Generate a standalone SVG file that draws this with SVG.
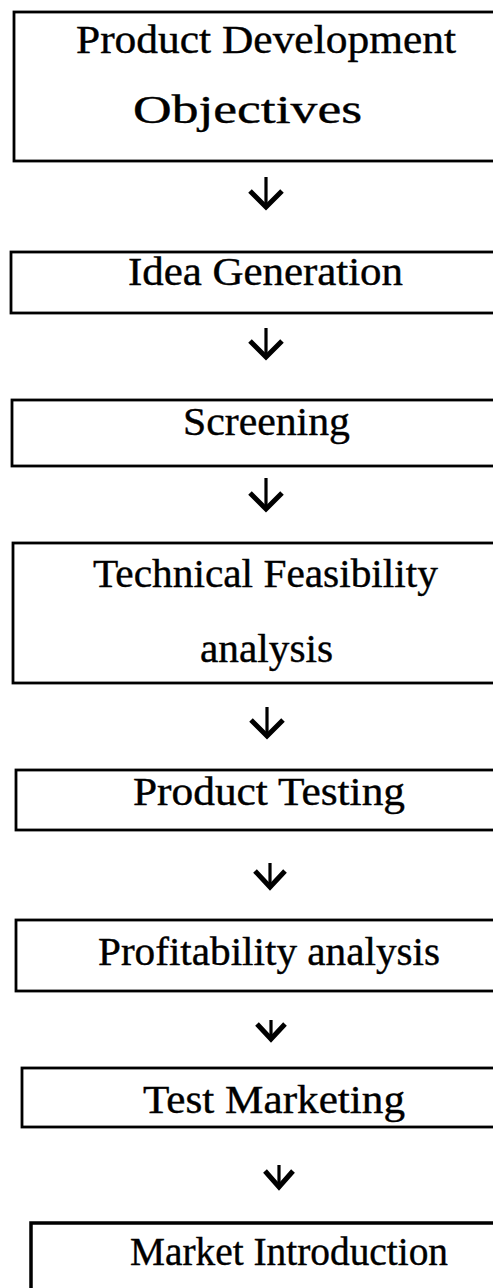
<svg xmlns="http://www.w3.org/2000/svg" width="493" height="1288" viewBox="0 0 493 1288">
<style>
.box{fill:none;stroke:#000;stroke-width:2.8}
.lbl{font-family:"Liberation Serif","Times New Roman",serif;font-size:40px;fill:#000;stroke:#000;stroke-width:0.4}
.stem{stroke:#000;stroke-width:3.2;fill:none}
.head{stroke:#000;stroke-width:5;fill:none;stroke-linejoin:miter;stroke-linecap:butt}
</style>
<rect width="493" height="1288" fill="#fff"/>
<g id="n1"><rect class="box" x="14" y="12" width="500" height="149"/>
<text class="lbl" x="76" y="53" textLength="380" lengthAdjust="spacingAndGlyphs">Product Development</text>
<text class="lbl" x="133" y="123" textLength="229" lengthAdjust="spacingAndGlyphs">Objectives</text></g>
<g id="n2"><rect class="box" x="11" y="252" width="500" height="61"/>
<text class="lbl" x="128" y="285" textLength="275" lengthAdjust="spacingAndGlyphs">Idea Generation</text></g>
<g id="n3"><rect class="box" x="12" y="400" width="500" height="66"/>
<text class="lbl" x="183" y="435" textLength="167" lengthAdjust="spacingAndGlyphs">Screening</text></g>
<g id="n4"><rect class="box" x="13" y="543" width="500" height="140"/>
<text class="lbl" x="93" y="587" textLength="345" lengthAdjust="spacingAndGlyphs">Technical Feasibility</text>
<text class="lbl" x="200" y="662" textLength="133" lengthAdjust="spacingAndGlyphs">analysis</text></g>
<g id="n5"><rect class="box" x="16" y="770" width="500" height="60"/>
<text class="lbl" x="133" y="805" textLength="272" lengthAdjust="spacingAndGlyphs">Product Testing</text></g>
<g id="n6"><rect class="box" x="16" y="920" width="500" height="71"/>
<text class="lbl" x="98" y="965" textLength="342" lengthAdjust="spacingAndGlyphs">Profitability analysis</text></g>
<g id="n7"><rect class="box" x="22" y="1068" width="500" height="59"/>
<text class="lbl" x="143" y="1113" textLength="262" lengthAdjust="spacingAndGlyphs">Test Marketing</text></g>
<g id="n8"><path class="box" d="M31 1300 V1223 H500" style="stroke-width:3.5"/>
<text class="lbl" x="130" y="1265" textLength="318" lengthAdjust="spacingAndGlyphs">Market Introduction</text></g>
<g id="connectors">
<path class="stem" d="M266 177 V206"/><path class="head" d="M250 191 L266 207 L282 191"/>
<path class="stem" d="M266 328 V356"/><path class="head" d="M250 341 L266 357 L282 341"/>
<path class="stem" d="M266 478 V508"/><path class="head" d="M250 493 L266 509 L282 493"/>
<path class="stem" d="M267 707 V735"/><path class="head" d="M251 720 L267 736 L283 720"/>
<path class="stem" d="M270 863 V886"/><path class="head" d="M255 871 L270 887 L285 871"/>
<path class="stem" d="M271 1020 V1038"/><path class="head" d="M257 1024 L271 1039 L285 1024"/>
<path class="stem" d="M279 1165 V1186"/><path class="head" d="M265 1171 L279 1187 L293 1171"/>
</g>
</svg>
